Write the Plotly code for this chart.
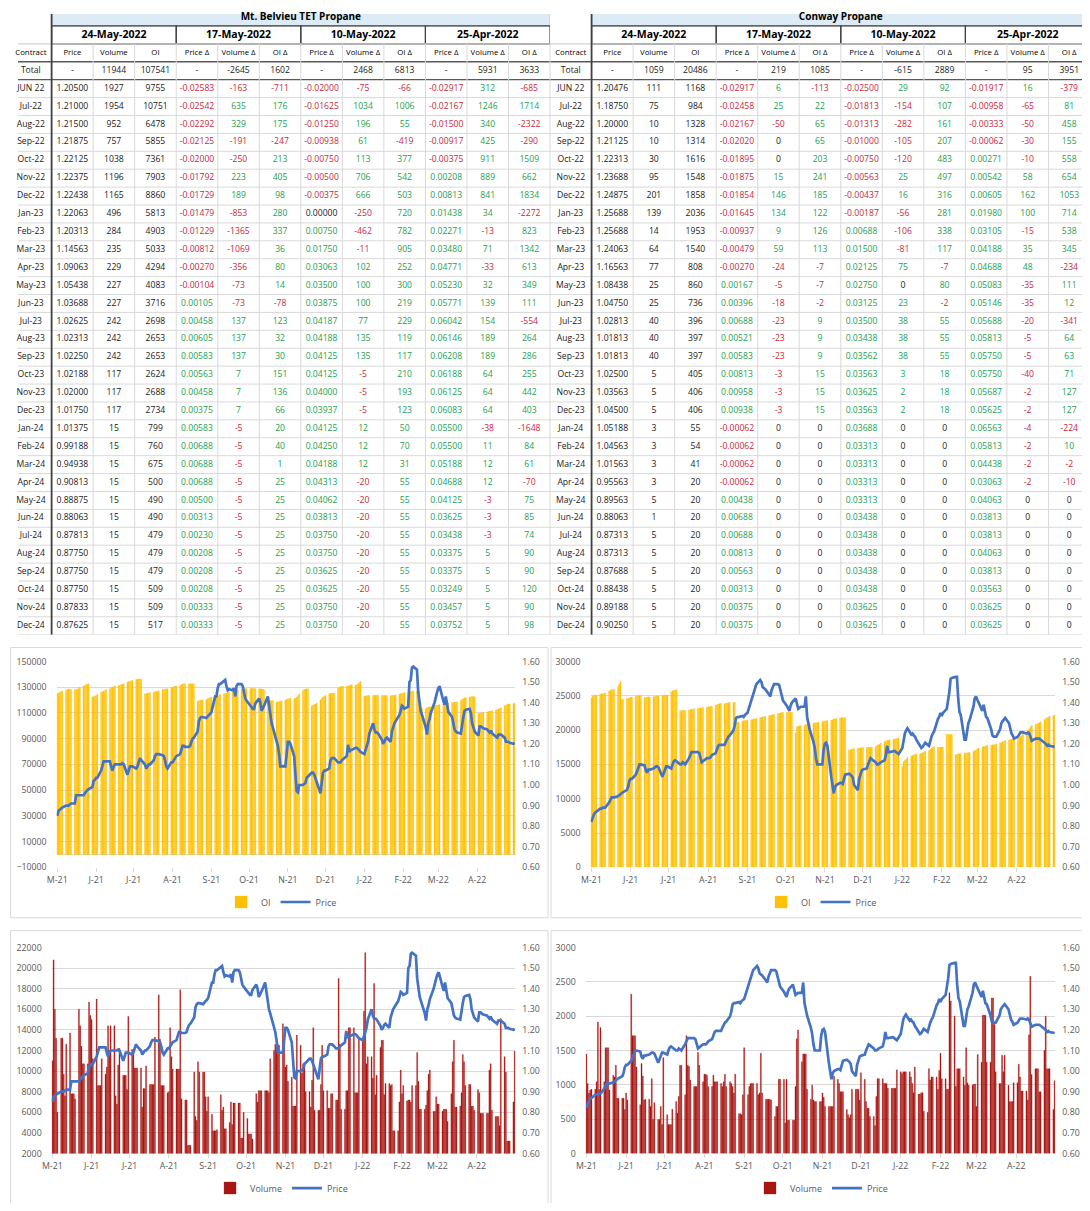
import pandas as pd
import plotly.graph_objects as go

# ================= TABLE DATA =================
CONTRACTS = ["Total", "JUN 22", "Jul-22", "Aug-22", "Sep-22", "Oct-22", "Nov-22", "Dec-22",
             "Jan-23", "Feb-23", "Mar-23", "Apr-23", "May-23", "Jun-23", "Jul-23", "Aug-23",
             "Sep-23", "Oct-23", "Nov-23", "Dec-23", "Jan-24", "Feb-24", "Mar-24", "Apr-24",
             "May-24", "Jun-24", "Jul-24", "Aug-24", "Sep-24", "Oct-24", "Nov-24", "Dec-24"]
SNAPSHOTS = ["24-May-2022", "17-May-2022", "10-May-2022", "25-Apr-2022"]
COL_LABELS = ["Contract", "Price", "Volume", "OI"] + ["Price Δ", "Volume Δ", "OI Δ"] * 3

# Mt. Belvieu TET propane (price lists have no total row, the others start with the total)
MB_PRICE = [1.20500, 1.21000, 1.21500, 1.21875, 1.22125, 1.22375, 1.22438, 1.22063, 1.20313, 1.14563,
            1.09063, 1.05438, 1.03688, 1.02625, 1.02313, 1.02250, 1.02188, 1.02000, 1.01750, 1.01375,
            0.99188, 0.94938, 0.90813, 0.88875, 0.88063, 0.87813, 0.87750, 0.87750, 0.87750, 0.87833,
            0.87625]
MB_VOLUME = [11944, 1927, 1954, 952, 757, 1038, 1196, 1165, 496, 284, 235, 229, 227, 227, 242, 242,
             242, 117, 117, 117, 15, 15, 15, 15, 15, 15, 15, 15, 15, 15, 15, 15]
MB_OI = [107541, 9755, 10751, 6478, 5855, 7361, 7903, 8860, 5813, 4903, 5033, 4294, 4083, 3716, 2698,
         2653, 2653, 2624, 2688, 2734, 799, 760, 675, 500, 490, 490, 479, 479, 479, 509, 509, 517]

MB_PRICE_CHG_0517 = [-0.02583, -0.02542, -0.02292, -0.02125, -0.02000, -0.01792, -0.01729, -0.01479,
                     -0.01229, -0.00812, -0.00270, -0.00104, 0.00105, 0.00458, 0.00605, 0.00583,
                     0.00563, 0.00458, 0.00375, 0.00583, 0.00688, 0.00688, 0.00688, 0.00500, 0.00313,
                     0.00230, 0.00208, 0.00208, 0.00208, 0.00333, 0.00333]
MB_VOL_CHG_0517 = [-2645, -163, 635, 329, -191, -250, 223, 189, -853, -1365, -1069, -356, -73, -73, 137,
                   137, 137, 7, 7, 7, -5, -5, -5, -5, -5, -5, -5, -5, -5, -5, -5, -5]
MB_OI_CHG_0517 = [1602, -711, 176, 175, -247, 213, 405, 98, 280, 337, 36, 80, 14, -78, 123, 32, 30,
                  151, 136, 66, 20, 40, 1, 25, 25, 25, 25, 25, 25, 25, 25, 25]

MB_PRICE_CHG_0510 = [-0.02000, -0.01625, -0.01250, -0.00938, -0.00750, -0.00500, -0.00375, 0.00000,
                     0.00750, 0.01750, 0.03063, 0.03500, 0.03875, 0.04187, 0.04188, 0.04125, 0.04125,
                     0.04000, 0.03937, 0.04125, 0.04250, 0.04188, 0.04313, 0.04062, 0.03813, 0.03750,
                     0.03750, 0.03625, 0.03625, 0.03750, 0.03750]
MB_VOL_CHG_0510 = [2468, -75, 1034, 196, 61, 113, 706, 666, -250, -462, -11, 102, 100, 100, 77, 135,
                   135, -5, -5, -5, 12, 12, 12, -20, -20, -20, -20, -20, -20, -20, -20, -20]
MB_OI_CHG_0510 = [6813, -66, 1006, 55, -419, 377, 542, 503, 720, 782, 905, 252, 300, 219, 229, 119,
                  117, 210, 193, 123, 50, 70, 31, 55, 55, 55, 55, 55, 55, 55, 55, 55]

MB_PRICE_CHG_0425 = [-0.02917, -0.02167, -0.01500, -0.00917, -0.00375, 0.00208, 0.00813, 0.01438,
                     0.02271, 0.03480, 0.04771, 0.05230, 0.05771, 0.06042, 0.06146, 0.06208, 0.06188,
                     0.06125, 0.06083, 0.05500, 0.05500, 0.05188, 0.04688, 0.04125, 0.03625, 0.03438,
                     0.03375, 0.03375, 0.03249, 0.03457, 0.03752]
MB_VOL_CHG_0425 = [5931, 312, 1246, 340, 425, 911, 889, 841, 34, -13, 71, -33, 32, 139, 154, 189, 189,
                   64, 64, 64, -38, 11, 12, 12, -3, -3, -3, 5, 5, 5, 5, 5]
MB_OI_CHG_0425 = [3633, -685, 1714, -2322, -290, 1509, 662, 1834, -2272, 823, 1342, 613, 349, 111,
                  -554, 264, 286, 255, 442, 403, -1648, 84, 61, -70, 75, 85, 74, 90, 90, 120, 90, 98]

# Conway propane
CW_PRICE = [1.20476, 1.18750, 1.20000, 1.21125, 1.22313, 1.23688, 1.24875, 1.25688, 1.25688, 1.24063,
            1.16563, 1.08438, 1.04750, 1.02813, 1.01813, 1.01813, 1.02500, 1.03563, 1.04500, 1.05188,
            1.04563, 1.01563, 0.95563, 0.89563, 0.88063, 0.87313, 0.87313, 0.87688, 0.88438, 0.89188,
            0.90250]
CW_VOLUME = [1059, 111, 75, 10, 10, 30, 95, 201, 139, 14, 64, 77, 25, 25, 40, 40, 40, 5, 5, 5, 3, 3,
             3, 3, 5, 1, 5, 5, 5, 5, 5, 5]
CW_OI = [20486, 1168, 984, 1328, 1314, 1616, 1548, 1858, 2036, 1953, 1540, 808, 860, 736, 396, 397,
         397, 405, 406, 406, 55, 54, 41, 20, 20, 20, 20, 20, 20, 20, 20, 20]

CW_PRICE_CHG_0517 = [-0.02917, -0.02458, -0.02167, -0.02020, -0.01895, -0.01875, -0.01854, -0.01645,
                     -0.00937, -0.00479, -0.00270, 0.00167, 0.00396, 0.00688, 0.00521, 0.00583,
                     0.00813, 0.00958, 0.00938, -0.00062, -0.00062, -0.00062, -0.00062, 0.00438,
                     0.00688, 0.00688, 0.00813, 0.00563, 0.00313, 0.00375, 0.00375]
CW_VOL_CHG_0517 = [219, 6, 25, -50, 0, 0, 15, 146, 134, 9, 59, -24, -5, -18, -23, -23, -23, -3, -3, -3,
                   0, 0, 0, 0, 0, 0, 0, 0, 0, 0, 0, 0]
CW_OI_CHG_0517 = [1085, -113, 22, 65, 65, 203, 241, 185, 122, 126, 113, -7, -7, -2, 9, 9, 9, 15, 15, 15,
                  0, 0, 0, 0, 0, 0, 0, 0, 0, 0, 0, 0]

CW_PRICE_CHG_0510 = [-0.02500, -0.01813, -0.01313, -0.01000, -0.00750, -0.00563, -0.00437, -0.00187,
                     0.00688, 0.01500, 0.02125, 0.02750, 0.03125, 0.03500, 0.03438, 0.03562, 0.03563,
                     0.03625, 0.03563, 0.03688, 0.03313, 0.03313, 0.03313, 0.03313, 0.03438, 0.03438,
                     0.03438, 0.03438, 0.03438, 0.03625, 0.03625]
CW_VOL_CHG_0510 = [-615, 29, -154, -282, -105, -120, 25, 16, -56, -106, -81, 75, 0, 23, 38, 38, 38, 3,
                   2, 2, 0, 0, 0, 0, 0, 0, 0, 0, 0, 0, 0, 0]
CW_OI_CHG_0510 = [2889, 92, 107, 161, 207, 483, 497, 316, 281, 338, 117, -7, 80, -2, 55, 55, 55, 18, 18,
                  18, 0, 0, 0, 0, 0, 0, 0, 0, 0, 0, 0, 0]

CW_PRICE_CHG_0425 = [-0.01917, -0.00958, -0.00333, -0.00062, 0.00271, 0.00542, 0.00605, 0.01980,
                     0.03105, 0.04188, 0.04688, 0.05083, 0.05146, 0.05688, 0.05813, 0.05750, 0.05750,
                     0.05687, 0.05625, 0.06563, 0.05813, 0.04438, 0.03063, 0.04063, 0.03813, 0.03813,
                     0.04063, 0.03813, 0.03563, 0.03625, 0.03625]
CW_VOL_CHG_0425 = [95, 16, -65, -50, -30, -10, 58, 162, 100, -15, 35, 48, -35, -35, -20, -5, -5, -40,
                   -2, -2, -4, -2, -2, -2, 0, 0, 0, 0, 0, 0, 0, 0]
CW_OI_CHG_0425 = [3951, -379, 81, 458, 155, 558, 654, 1053, 714, 538, 345, -234, 111, 12, -341, 64, 63,
                  71, 127, 127, -224, 10, -2, -10, 0, 0, 0, 0, 0, 0, 0, 0]

# ================= DAILY HISTORY (24-May-2021 .. 24-May-2022, weekdays) =================
HIST_START, HIST_END = "2021-05-24", "2022-05-24"

MB_HIST_PRICE = [
    0.850, 0.875, 0.880, 0.885, 0.890, 0.900, 0.900, 0.900, 0.905, 0.910,
    0.910, 0.950, 0.950, 0.950, 0.950, 0.950, 0.960, 0.970, 0.975, 0.980,
    0.990, 1.020, 1.025, 1.035, 1.035, 1.070, 1.090, 1.115, 1.115, 1.115,
    1.115, 1.090, 1.070, 1.090, 1.100, 1.100, 1.100, 1.100, 1.105, 1.100,
    1.050, 1.070, 1.090, 1.090, 1.090, 1.080, 1.090, 1.110, 1.130, 1.120,
    1.100, 1.080, 1.090, 1.100, 1.100, 1.120, 1.140, 1.150, 1.150, 1.150,
    1.145, 1.140, 1.120, 1.090, 1.080, 1.110, 1.110, 1.120, 1.135, 1.140,
    1.150, 1.170, 1.190, 1.190, 1.185, 1.185, 1.190, 1.210, 1.225, 1.230,
    1.260, 1.310, 1.325, 1.330, 1.330, 1.325, 1.335, 1.340, 1.345, 1.355,
    1.430, 1.430, 1.470, 1.490, 1.490, 1.505, 1.510, 1.480, 1.460, 1.465,
    1.460, 1.470, 1.430, 1.480, 1.490, 1.490, 1.480, 1.450, 1.420, 1.410,
    1.385, 1.375, 1.370, 1.370, 1.395, 1.420, 1.400, 1.360, 1.370, 1.385,
    1.430, 1.380, 1.330, 1.300, 1.280, 1.210, 1.190, 1.150, 1.090, 1.090,
    1.090, 1.150, 1.210, 1.210, 1.200, 1.140, 1.020, 0.970, 0.965, 1.000,
    1.000, 1.005, 1.010, 1.035, 1.040, 1.060, 1.060, 1.050, 1.030, 1.010,
    0.960, 1.010, 1.060, 1.070, 1.070, 1.080, 1.120, 1.130, 1.130, 1.130,
    1.110, 1.110, 1.110, 1.120, 1.125, 1.140, 1.195, 1.160, 1.170, 1.170,
    1.180, 1.180, 1.175, 1.165, 1.160, 1.150, 1.170, 1.200, 1.210, 1.250,
    1.300, 1.270, 1.255, 1.255, 1.250, 1.220, 1.200, 1.210, 1.225, 1.230,
    1.210, 1.260, 1.285, 1.300, 1.310, 1.340, 1.360, 1.385, 1.380, 1.370,
    1.380, 1.500, 1.510, 1.570, 1.575, 1.560, 1.450, 1.390, 1.360, 1.340,
    1.280, 1.245, 1.300, 1.320, 1.350, 1.400, 1.430, 1.450, 1.470, 1.480,
    1.410, 1.390, 1.430, 1.380, 1.355, 1.330, 1.300, 1.270, 1.260, 1.255,
    1.250, 1.300, 1.330, 1.360, 1.365, 1.370, 1.350, 1.300, 1.280, 1.260,
    1.240, 1.285, 1.285, 1.280, 1.275, 1.270, 1.260, 1.255, 1.265, 1.250,
    1.235, 1.230, 1.245, 1.245, 1.245, 1.230, 1.210, 1.210, 1.210, 1.205,
    1.200, 1.205,
]
MB_HIST_OI = [
    125000, 125500, 126000, 126500, 127000, 127500, 128000, 128500, 128500, 128000,
    128000, 128200, 128500, 129000, 130000, 131000, 131500, 132000, 132500, 132600,
    122300, 122800, 123200, 123600, 124500, 126000, 126500, 127000, 127500, 128200,
    128700, 129500, 130000, 130500, 131000, 131300, 131600, 132000, 132300, 132600,
    133800, 134200, 134600, 135000, 135100, 136000, 136200, 136400, 136400, 136400,
    124900, 125000, 125200, 125400, 125800, 126200, 126500, 126700, 126900, 127200,
    128000, 128200, 128500, 128700, 128700, 129500, 130000, 130300, 130800, 131000,
    131500, 132000, 132300, 132600, 132600, 132600, 132600, 132600, 132600, 132600,
    119200, 119500, 119800, 120000, 120300, 120500, 121000, 121500, 122000, 122300,
    122800, 123200, 123600, 124000, 124500, 124900, 125200, 125400, 126000, 126500,
    127000, 127400, 127800, 128000, 128200, 128500, 128700, 128700, 128900, 129000,
    129000, 129200, 129200, 129000, 128800, 128700, 128700, 128500, 128300, 128000,
    120000, 119700, 119700, 119500, 119700, 118500, 118500, 118800, 119000, 119500,
    120000, 120500, 121000, 121000, 121500, 121000, 121500, 122300, 123500, 124900,
    127500, 128000, 128500, 128700, 128700, 115500, 115900, 116500, 117000, 117700,
    120000, 121500, 122300, 123000, 123500, 124900, 125000, 125200, 125400, 125400,
    129500, 130000, 130300, 130500, 130800, 130800, 131000, 131300, 131500, 132000,
    131500, 132000, 132600, 133500, 134600, 123000, 123200, 123400, 123600, 123600,
    123600, 123600, 123800, 123800, 123600, 123600, 123500, 123600, 123600, 123600,
    123400, 123600, 123800, 123800, 124000, 124500, 124900, 125400, 125400, 126000,
    126200, 126200, 126500, 126900, 127000, 126900, 127000, 127000, 113300, 113300,
    113500, 114000, 114600, 114600, 115000, 115500, 115900, 116000, 116200, 116500,
    117000, 117200, 117400, 117700, 117700, 118000, 118000, 118300, 118500, 118500,
    119700, 120500, 121000, 121500, 122000, 122300, 122500, 122700, 122700, 122500,
    109500, 109800, 110000, 110300, 110500, 110800, 111000, 111200, 111500, 111800,
    112000, 112600, 113000, 113500, 114000, 115500, 116000, 116500, 117000, 117000,
    117200, 117700,
]
MB_HIST_VOL = [
    11000, 20800, 16000, 13200, 6000, 13200, 13200, 9700, 7600, 12600,
    13700, 7800, 7800, 7800, 7300, 16000, 14400, 12400, 10700, 10700,
    10700, 16700, 15400, 15000, 11200, 17000, 8600, 8600, 8600, 11200,
    9700, 10400, 14400, 12000, 14400, 14400, 7600, 6800, 10600, 12200,
    9600, 9600, 9600, 8200, 15300, 12100, 12100, 10300, 10300, 10300,
    10300, 6500, 8300, 8300, 10500, 8700, 8700, 8700, 8700, 13300,
    17400, 13100, 8600, 8600, 8600, 7900, 8000, 14200, 11400, 10200,
    10200, 10200, 10200, 17900, 7300, 7200, 7200, 2800, 2800, 2800,
    9900, 5600, 5200, 10900, 9900, 9900, 9900, 7500, 6100, 7500,
    5800, 4200, 4200, 4200, 4300, 7700, 6200, 6500, 4400, 4400,
    5000, 7000, 4800, 6900, 6900, 6900, 6900, 3500, 3500, 6000,
    5400, 3900, 3900, 3900, 3400, 7800, 7000, 8100, 8100, 8100,
    8100, 8100, 8100, 7900, 11200, 12000, 12600, 12600, 12600, 12500,
    14600, 12800, 10400, 10600, 9000, 9400, 6600, 6600, 6600, 13500,
    12500, 9800, 10700, 10700, 8000, 8000, 6500, 9100, 14200, 6200,
    6200, 6200, 8700, 12500, 8100, 8100, 6400, 6400, 7800, 7800,
    7200, 7200, 19000, 12600, 6300, 6300, 8100, 8100, 14200, 14200,
    14200, 7900, 7900, 7900, 13200, 13200, 15800, 21500, 10700, 11400,
    11400, 9300, 18500, 7700, 9600, 12300, 13000, 13000, 7700, 8800,
    8800, 8600, 8700, 4200, 4200, 4200, 7000, 10100, 7800, 8600,
    7100, 7200, 7200, 7000, 8600, 8600, 11800, 9000, 6300, 6300,
    6300, 6700, 8100, 9700, 10100, 6100, 6100, 7500, 6800, 6800,
    6100, 6300, 6300, 6300, 5100, 7800, 10900, 13000, 6500, 6500,
    6600, 7900, 11600, 10900, 8600, 8700, 8700, 6600, 6600, 6200,
    8200, 7900, 5900, 5900, 5900, 5900, 5900, 10100, 10700, 6200,
    5600, 5600, 5600, 4700, 15100, 11400, 9900, 3200, 3200, 3200,
    7000, 11944,
]

CW_HIST_PRICE = [
    0.820, 0.840, 0.855, 0.865, 0.870, 0.885, 0.885, 0.890, 0.890, 0.890,
    0.915, 0.930, 0.940, 0.940, 0.940, 0.945, 0.950, 0.955, 0.960, 0.965,
    0.975, 0.990, 1.020, 1.030, 1.030, 1.050, 1.065, 1.090, 1.100, 1.100,
    1.095, 1.070, 1.060, 1.075, 1.075, 1.080, 1.085, 1.090, 1.090, 1.085,
    1.040, 1.055, 1.075, 1.090, 1.090, 1.080, 1.100, 1.115, 1.120, 1.115,
    1.100, 1.100, 1.110, 1.105, 1.100, 1.130, 1.150, 1.160, 1.160, 1.160,
    1.160, 1.155, 1.130, 1.110, 1.115, 1.130, 1.130, 1.130, 1.135, 1.145,
    1.155, 1.170, 1.190, 1.195, 1.195, 1.195, 1.210, 1.225, 1.235, 1.240,
    1.265, 1.290, 1.325, 1.330, 1.330, 1.335, 1.330, 1.340, 1.345, 1.350,
    1.410, 1.430, 1.460, 1.480, 1.490, 1.510, 1.500, 1.475, 1.470, 1.465,
    1.440, 1.430, 1.460, 1.475, 1.490, 1.490, 1.485, 1.460, 1.430, 1.410,
    1.385, 1.370, 1.360, 1.385, 1.400, 1.420, 1.400, 1.370, 1.375, 1.380,
    1.380, 1.430, 1.330, 1.300, 1.270, 1.210, 1.180, 1.130, 1.100, 1.100,
    1.100, 1.170, 1.200, 1.205, 1.190, 1.040, 0.990, 0.960, 0.990, 1.000,
    1.010, 1.010, 1.005, 1.030, 1.050, 1.055, 1.050, 1.045, 1.035, 1.000,
    0.975, 1.030, 1.050, 1.070, 1.075, 1.080, 1.100, 1.120, 1.130, 1.125,
    1.110, 1.100, 1.100, 1.105, 1.110, 1.120, 1.145, 1.190, 1.160, 1.160,
    1.165, 1.165, 1.160, 1.155, 1.150, 1.180, 1.220, 1.250, 1.265, 1.275,
    1.245, 1.250, 1.240, 1.235, 1.220, 1.185, 1.180, 1.185, 1.195, 1.205,
    1.190, 1.220, 1.235, 1.250, 1.260, 1.320, 1.330, 1.350, 1.335, 1.350,
    1.370, 1.410, 1.450, 1.515, 1.520, 1.525, 1.525, 1.420, 1.355, 1.340,
    1.220, 1.220, 1.270, 1.300, 1.315, 1.380, 1.420, 1.430, 1.415, 1.400,
    1.360, 1.390, 1.360, 1.330, 1.325, 1.270, 1.240, 1.235, 1.235, 1.235,
    1.270, 1.300, 1.310, 1.320, 1.325, 1.300, 1.265, 1.250, 1.240, 1.225,
    1.235, 1.245, 1.255, 1.255, 1.255, 1.250, 1.255, 1.250, 1.230, 1.215,
    1.225, 1.225, 1.225, 1.225, 1.220, 1.205, 1.200, 1.190, 1.195, 1.190,
    1.185, 1.185,
]
CW_HIST_OI = [
    24700, 24900, 25000, 25050, 25100, 25200, 25300, 25300, 25350, 25400,
    25700, 25800, 25870, 25900, 25950, 26350, 26700, 27070, 24500, 24500,
    24600, 24600, 24700, 24800, 24800, 24900, 25000, 25000, 25000, 25050,
    24700, 24800, 24800, 24850, 24800, 24850, 24900, 24900, 24950, 24950,
    25000, 25050, 25050, 25100, 25100, 25600, 25700, 25800, 25850, 25900,
    22800, 22800, 22850, 22900, 22900, 22950, 23000, 23000, 23050, 23100,
    23150, 23200, 23200, 23250, 23300, 23350, 23400, 23400, 23450, 23500,
    23600, 23700, 23800, 23850, 23900, 23850, 23900, 23950, 24000, 24000,
    24000, 24050, 21100, 21100, 21200, 21300, 21400, 21400, 21400, 21450,
    21500, 21550, 21600, 21650, 21700, 21800, 21850, 21900, 21950, 22000,
    22100, 22150, 22200, 22250, 22300, 22400, 22450, 22500, 22550, 22600,
    22600, 22600, 22600, 22600, 22600, 19600, 20500, 20550, 20600, 20650,
    20700, 20800, 20900, 21000, 21000, 21000, 21050, 21050, 21100, 21150,
    21200, 21250, 21300, 21350, 21400, 21450, 21500, 21600, 21650, 21700,
    21750, 21800, 21800, 21800, 21800, 17100, 17150, 17200, 17250, 17300,
    17350, 17400, 17400, 17450, 17450, 17450, 17500, 17500, 17500, 17500,
    17600, 17700, 17850, 17950, 18100, 18300, 18400, 18500, 18550, 18600,
    18650, 18700, 18750, 18800, 18800, 14700, 15400, 15600, 15800, 16000,
    16200, 16300, 16400, 16450, 16500, 16550, 16600, 16700, 16800, 16900,
    17000, 17200, 17400, 17500, 17600, 17500, 17500, 17500, 17550, 17500,
    19400, 19400, 19300, 19350, 19400, 16400, 16450, 16500, 16550, 16600,
    16600, 16650, 16650, 16700, 16750, 16900, 17000, 17100, 17250, 17400,
    17500, 17600, 17650, 17700, 17750, 17800, 17850, 17850, 17900, 18000,
    18100, 18200, 18300, 18400, 18500, 18550, 18600, 18650, 18700, 18700,
    18800, 18900, 19050, 19200, 19400, 19600, 19900, 20200, 20500, 20700,
    20800, 20900, 21000, 21100, 21200, 21500, 21700, 21800, 21900, 22000,
    22100, 22200,
]
CW_HIST_VOL = [
    1450, 1020, 880, 925, 935, 935, 1045, 1915, 930, 1835,
    1045, 1540, 1540, 1540, 925, 1140, 1115, 1285, 805, 805,
    805, 805, 640, 880, 780, 2320, 1715, 1715, 1715, 1260,
    710, 1310, 1130, 780, 790, 790, 685, 1090, 495, 740,
    495, 495, 685, 420, 1395, 565, 420, 420, 420, 645,
    755, 590, 830, 1285, 1285, 855, 1715, 1285, 1270, 1070,
    975, 975, 975, 1475, 1285, 1045, 1155, 1155, 1140, 975,
    975, 1140, 1045, 1045, 1045, 1020, 975, 1045, 1155, 975,
    1045, 1020, 975, 880, 1155, 580, 580, 565, 855, 1540,
    855, 975, 1020, 1020, 1020, 1020, 855, 880, 1460, 880,
    790, 790, 790, 790, 780, 540, 685, 685, 1080, 1080,
    1080, 445, 1080, 485, 485, 485, 485, 975, 1670, 1800,
    1335, 1450, 1450, 1450, 935, 790, 995, 780, 755, 755,
    755, 755, 880, 820, 685, 685, 685, 685, 685, 1125,
    1080, 1020, 900, 900, 900, 640, 565, 520, 565, 935,
    935, 935, 935, 780, 1175, 1080, 755, 660, 660, 540,
    540, 405, 830, 1090, 1090, 1090, 1020, 1020, 1020, 950,
    950, 950, 950, 950, 1220, 1190, 1165, 1190, 1190, 1190,
    1190, 1115, 1020, 885, 1260, 865, 865, 885, 885, 615,
    600, 1235, 1070, 1115, 1115, 1115, 935, 1210, 1460, 1090,
    1090, 935, 935, 2340, 2220, 2000, 980, 1235, 1235, 1235,
    1115, 995, 1540, 1030, 995, 995, 1010, 1010, 685, 1440,
    1330, 2015, 2015, 2015, 1330, 1330, 2265, 2265, 1880, 1190,
    1020, 1020, 1430, 1190, 1430, 995, 755, 755, 755, 1030,
    1030, 1300, 1115, 910, 910, 910, 780, 1730, 2580, 1150,
    1235, 1235, 1235, 900, 900, 1500, 2000, 1235, 1235, 1235,
    640, 1059,
]

# ================= STYLE =================
# the page body keeps its default 8px margin, so the figure is sized to fit inside the window
PAGE_W, PAGE_H, BODY_MARGIN = 1090, 1211, 8
W, H = PAGE_W - BODY_MARGIN, PAGE_H - 2 * BODY_MARGIN
FONT = "Open Sans"
INK = "#1a1a1a"
AXIS_INK = "#595959"
GRID = "#D9D9D9"
DARK_RULE = "#404040"
RED = "#C8283C"
GREEN = "#23A050"
TITLE_FILL = "#DDEBF7"
OI_COLOR = "rgba(255,192,0,0.99)"
VOL_COLOR = "rgba(168,18,14,0.99)"
PRICE_COLOR = "#4472C4"


def fx(px):
    """page pixel (from the left) -> paper fraction"""
    return (px - BODY_MARGIN) / W


def fy(px):
    """page pixel (from the top) -> paper fraction"""
    return 1 - (px - BODY_MARGIN) / H


def sign_color(v):
    if v < 0:
        return RED
    if v > 0:
        return GREEN
    return INK


def build_columns(price, volume, oi, changes):
    cols = [CONTRACTS,
            ["-"] + [f"{p:.5f}" for p in price],
            [str(v) for v in volume],
            [str(v) for v in oi]]
    colors = [[INK] * len(CONTRACTS) for _ in range(4)]
    for p_chg, v_chg, oi_chg in changes:
        cols.append(["-"] + [f"{p:.5f}" for p in p_chg])
        colors.append([INK] + [sign_color(p) for p in p_chg])
        for series in (v_chg, oi_chg):
            cols.append([str(v) for v in series])
            colors.append([INK] + [sign_color(v) for v in series[1:]])
    return cols, colors


# table grid: 13 columns of equal width, rows -3 (title) -2 (dates) -1 (labels) 0 (total) .. 31
N_COLS = 13
TABLE_TOP, TABLE_BOTTOM, TABLE_W = 2, 635, 545
COLW = TABLE_W / N_COLS
ROWH = (TABLE_BOTTOM - TABLE_TOP) / 35

fig = go.Figure()
layout_axes = {}
shapes = []


def add_table(side, x0, title, price, volume, oi, changes):
    xa, ya = f"x{5 + side}", f"y{9 + side}"
    cols, colors = build_columns(price, volume, oi, changes)

    xs, ys, texts, tcolors, tsizes = [], [], [], [], []

    def put(x, y, text, color, size):
        xs.append(x)
        ys.append(y)
        texts.append(text)
        tcolors.append(color)
        tsizes.append(size)

    put(N_COLS / 2 + 0.5, -3, f"<b>{title}</b>", "black", 10)
    for g, d in enumerate(SNAPSHOTS):
        put(2.5 + 3 * g, -2, f"<b>{d}</b>", "black", 10.5)
    for c, lab in enumerate(COL_LABELS):
        put(c + 0.5, -1, lab, "black", 7.8)
    for c, col in enumerate(cols):
        for r, val in enumerate(col):
            put(c + 0.5, r, val, colors[c][r], 8.6)

    fig.add_trace(go.Scatter(
        x=xs, y=ys, text=texts, mode="text", textposition="middle center",
        textfont=dict(family=FONT, size=tsizes, color=tcolors),
        xaxis=xa, yaxis=ya, showlegend=False, hoverinfo="skip", cliponaxis=False))

    left_px = max(x0, BODY_MARGIN)
    layout_axes[f"xaxis{5 + side}"] = dict(
        domain=[fx(left_px), fx(x0 + TABLE_W)], anchor=ya,
        range=[(left_px - x0) / COLW, N_COLS], visible=False, fixedrange=True)
    layout_axes[f"yaxis{9 + side}"] = dict(
        domain=[fy(TABLE_BOTTOM), fy(BODY_MARGIN)], anchor=xa,
        range=[31.5, (BODY_MARGIN - TABLE_TOP) / ROWH - 3.5], visible=False, fixedrange=True)

    def rule(xa0, xa1, ya0, ya1, color, width):
        shapes.append(dict(type="line", xref=xa, yref=ya, x0=xa0, x1=xa1, y0=ya0, y1=ya1,
                           line=dict(color=color, width=width), layer="below"))

    # title band and snapshot boxes
    shapes.append(dict(type="rect", xref=xa, yref=ya, x0=1, x1=N_COLS, y0=-3.5, y1=-2.5,
                       fillcolor=TITLE_FILL, line=dict(color="#BFBFBF", width=1), layer="below"))
    for g in range(4):
        shapes.append(dict(type="rect", xref=xa, yref=ya, x0=1 + 3 * g, x1=4 + 3 * g,
                           y0=-2.5, y1=-1.5, line=dict(color=DARK_RULE, width=1.2), layer="below"))
    # horizontal rules
    for r in range(-1, 32):
        if r in (0, 1):
            continue
        rule(0, N_COLS, r - 0.5, r - 0.5, GRID, 1)
    rule(0, N_COLS, 31.5, 31.5, GRID, 1)
    rule(0, 1, -1.5, -1.5, GRID, 1)
    rule(0, N_COLS, -0.5, -0.5, "#595959", 1.3)
    rule(0, N_COLS, 0.5, 0.5, "#595959", 1.3)
    # vertical rules
    for c in range(0, N_COLS + 1):
        if c == 1:
            continue
        rule(c, c, -1.5, 31.5, GRID, 1)
    rule(1, 1, -3.5, 31.5, DARK_RULE, 1.8)


add_table(0, 0, "Mt. Belvieu TET Propane", MB_PRICE, MB_VOLUME, MB_OI,
          [(MB_PRICE_CHG_0517, MB_VOL_CHG_0517, MB_OI_CHG_0517),
           (MB_PRICE_CHG_0510, MB_VOL_CHG_0510, MB_OI_CHG_0510),
           (MB_PRICE_CHG_0425, MB_VOL_CHG_0425, MB_OI_CHG_0425)])
add_table(1, 545, "Conway Propane", CW_PRICE, CW_VOLUME, CW_OI,
          [(CW_PRICE_CHG_0517, CW_VOL_CHG_0517, CW_OI_CHG_0517),
           (CW_PRICE_CHG_0510, CW_VOL_CHG_0510, CW_OI_CHG_0510),
           (CW_PRICE_CHG_0425, CW_VOL_CHG_0425, CW_OI_CHG_0425)])

# ================= CHARTS =================
DATES = pd.bdate_range(HIST_START, HIST_END)
for series in (MB_HIST_PRICE, MB_HIST_OI, MB_HIST_VOL, CW_HIST_PRICE, CW_HIST_OI, CW_HIST_VOL):
    assert len(series) == len(DATES), len(series)

TICK_DATES = pd.date_range(HIST_START, periods=12, freq=pd.DateOffset(months=1))
TICK_TEXT = [d.strftime("%b")[0] + "-" + d.strftime("%y") for d in TICK_DATES]
X_RANGE = ["2021-05-23 12:00", "2022-05-24 12:00"]
TICK_FONT = dict(family=FONT, size=8.8, color=AXIS_INK)

# (bars, bar name, bar colour, price, plot box px, left range, left step, legend centre px)
CHARTS = [
    (MB_HIST_OI, "OI", OI_COLOR, MB_HIST_PRICE, (47, 510, 662, 870), (-10000, 150000), 20000, (274, 905)),
    (CW_HIST_OI, "OI", OI_COLOR, CW_HIST_PRICE, (586, 1055, 662, 870), (0, 30000), 5000, (819, 905)),
    (MB_HIST_VOL, "Volume", VOL_COLOR, MB_HIST_PRICE, (42, 510, 951, 1159), (2000, 22000), 2000, (274, 1194)),
    (CW_HIST_VOL, "Volume", VOL_COLOR, CW_HIST_PRICE, (581, 1055, 951, 1159), (0, 3000), 500, (819, 1194)),
]

for i, (bars, bar_name, bar_color, price, box, yrange, ystep, leg) in enumerate(CHARTS, start=1):
    xname = "x" if i == 1 else f"x{i}"
    yl = "y" if i == 1 else f"y{2 * i - 1}"
    yr = f"y{2 * i}"
    legend = "legend" if i == 1 else f"legend{i}"

    fig.add_trace(go.Bar(x=DATES, y=bars, name=bar_name,
                         marker=dict(color=bar_color, line=dict(color=bar_color, width=0.3)),
                         xaxis=xname, yaxis=yl, legend=legend, hoverinfo="skip"))
    fig.add_trace(go.Scatter(x=DATES, y=price, name="Price", mode="lines",
                             line=dict(color=PRICE_COLOR, width=2.7),
                             xaxis=xname, yaxis=yr, legend=legend))

    x0, x1, top, bottom = box
    layout_axes["xaxis" if i == 1 else f"xaxis{i}"] = dict(
        domain=[fx(x0), fx(x1)], anchor=yl, type="date", range=X_RANGE,
        tickvals=TICK_DATES, ticktext=TICK_TEXT, showgrid=False, showline=False,
        ticks="outside", ticklen=4, tickcolor=GRID, tickfont=TICK_FONT)
    layout_axes["yaxis" if i == 1 else f"yaxis{2 * i - 1}"] = dict(
        domain=[fy(bottom), fy(top)], anchor=xname, range=list(yrange),
        tickvals=list(range(yrange[0], yrange[1] + 1, ystep)), tickformat="d",
        showgrid=True, gridcolor=GRID, gridwidth=1,
        zeroline=(yrange[0] < 0), zerolinecolor=GRID, zerolinewidth=1,
        ticks="", ticklabelstandoff=9, tickfont=TICK_FONT)
    layout_axes[f"yaxis{2 * i}"] = dict(
        overlaying=yl, side="right", anchor=xname, range=[0.6, 1.6],
        tick0=0.6, dtick=0.1, tickformat=".2f", showgrid=False, zeroline=False,
        ticks="", ticklabelstandoff=6, tickfont=TICK_FONT)
    layout_axes[legend] = dict(
        x=fx(leg[0]), y=fy(leg[1]), xanchor="center", yanchor="middle", orientation="h",
        font=dict(family=FONT, size=9, color=AXIS_INK), bgcolor="rgba(0,0,0,0)",
        itemwidth=30, tracegroupgap=0)

# chart frames
for (bx0, by0, bx1, by1) in [(0.5, 648, 543, 921), (546, 648, 1089.5, 921),
                             (0.5, 934, 543, 1210.5), (546, 934, 1089.5, 1210.5)]:
    shapes.append(dict(type="rect", xref="paper", yref="paper",
                       x0=fx(bx0), x1=fx(bx1), y0=fy(by1), y1=fy(by0),
                       line=dict(color=GRID, width=1), layer="below"))

fig.update_layout(
    width=W, height=H, autosize=False,
    margin=dict(l=0, r=0, t=0, b=0),
    paper_bgcolor="white", plot_bgcolor="white",
    font=dict(family=FONT, color=INK),
    barmode="group", bargap=0.2,
    showlegend=True,
    shapes=shapes,
    **layout_axes,
)

fig.write_html("out.html", config={"displayModeBar": False})
